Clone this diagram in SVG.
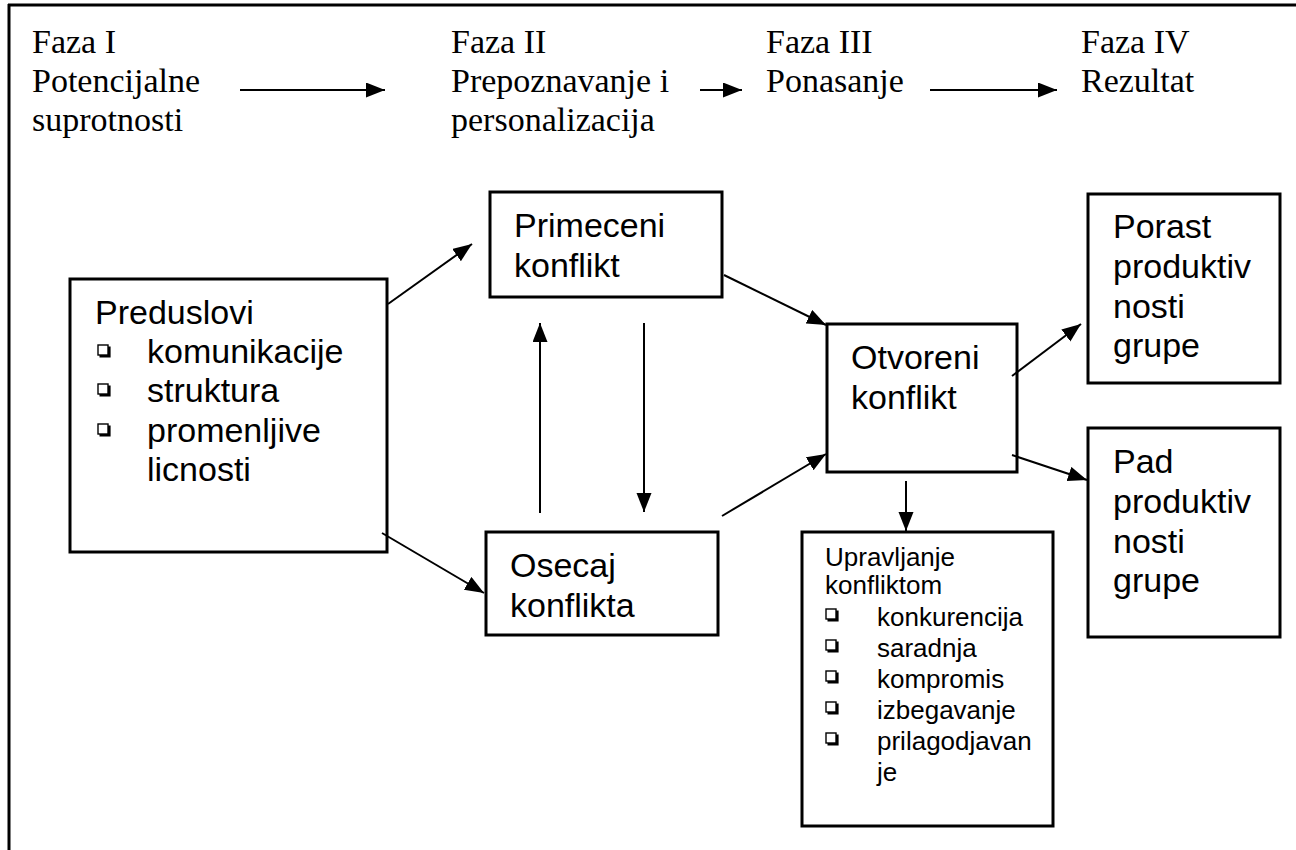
<svg xmlns="http://www.w3.org/2000/svg" xmlns:xlink="http://www.w3.org/1999/xlink" width="1296" height="850" viewBox="0 0 1296 850">
<style>
.hdr{font-family:"Liberation Serif","Times New Roman",serif;font-size:34px;fill:#000}
.box{fill:#fff;stroke:#000;stroke-width:3}
.t{font-family:"Liberation Sans",Arial,sans-serif;font-size:34px;fill:#000}
.ts{font-family:"Liberation Sans",Arial,sans-serif;font-size:26px;fill:#000}
.con{stroke:#000;stroke-width:2;fill:none;marker-end:url(#ah)}
</style>
<defs>
<marker id="ah" markerUnits="userSpaceOnUse" markerWidth="22" markerHeight="16" refX="19" refY="7.5" orient="auto">
<path d="M0,0 L19,7.5 L0,15 z" fill="#000"/>
</marker>
<g id="bul">
<rect x="0" y="0" width="10" height="10" fill="#fff" stroke="#000" stroke-width="1.4"/>
<path d="M1.5,11.3 H11.3 V1.5" stroke="#000" stroke-width="2.6" fill="none"/>
</g>
</defs>
<rect width="1296" height="850" fill="#fff"/>
<g id="frame">
<path d="M8,5 H1296 M9,4 V850" stroke="#000" stroke-width="3" fill="none"/>
</g>
<g id="header">
<text class="hdr" x="32" y="53">Faza I</text>
<text class="hdr" x="32" y="92">Potencijalne</text>
<text class="hdr" x="32" y="131">suprotnosti</text>
<text class="hdr" x="451" y="53">Faza II</text>
<text class="hdr" x="451" y="92">Prepoznavanje i</text>
<text class="hdr" x="451" y="131">personalizacija</text>
<text class="hdr" x="766" y="53">Faza III</text>
<text class="hdr" x="766" y="92">Ponasanje</text>
<text class="hdr" x="1081" y="53">Faza IV</text>
<text class="hdr" x="1081" y="92">Rezultat</text>
</g>
<g id="preduslovi">
<rect class="box" x="70" y="279" width="317" height="273"/>
<text class="t" x="95" y="324">Preduslovi</text>
<use xlink:href="#bul" x="98" y="345"/>
<text class="t" x="147" y="363">komunikacije</text>
<use xlink:href="#bul" x="98" y="384"/>
<text class="t" x="147" y="402">struktura</text>
<use xlink:href="#bul" x="98" y="424"/>
<text class="t" x="147" y="442">promenljive</text>
<text class="t" x="147" y="481">licnosti</text>
</g>
<g id="primeceni">
<rect class="box" x="490" y="192" width="232" height="105"/>
<text class="t" x="514" y="237">Primeceni</text>
<text class="t" x="514" y="277">konflikt</text>
</g>
<g id="osecaj">
<rect class="box" x="486" y="532" width="232" height="103"/>
<text class="t" x="510" y="577">Osecaj</text>
<text class="t" x="510" y="617">konflikta</text>
</g>
<g id="otvoreni">
<rect class="box" x="827" y="324" width="190" height="148"/>
<text class="t" x="851" y="369">Otvoreni</text>
<text class="t" x="851" y="409">konflikt</text>
</g>
<g id="porast">
<rect class="box" x="1088" y="194" width="192" height="189"/>
<text class="t" x="1113" y="238">Porast</text>
<text class="t" x="1113" y="278">produktiv</text>
<text class="t" x="1113" y="318">nosti</text>
<text class="t" x="1113" y="357">grupe</text>
</g>
<g id="pad">
<rect class="box" x="1088" y="428" width="192" height="209"/>
<text class="t" x="1113" y="473">Pad</text>
<text class="t" x="1113" y="513">produktiv</text>
<text class="t" x="1113" y="553">nosti</text>
<text class="t" x="1113" y="592">grupe</text>
</g>
<g id="upravljanje">
<rect class="box" x="802" y="532" width="251" height="294"/>
<text class="ts" x="825" y="566">Upravljanje</text>
<text class="ts" x="825" y="594">konfliktom</text>
<use xlink:href="#bul" x="826" y="609"/>
<text class="ts" x="877" y="626">konkurencija</text>
<use xlink:href="#bul" x="826" y="640"/>
<text class="ts" x="877" y="657">saradnja</text>
<use xlink:href="#bul" x="826" y="671"/>
<text class="ts" x="877" y="688">kompromis</text>
<use xlink:href="#bul" x="826" y="702"/>
<text class="ts" x="877" y="719">izbegavanje</text>
<use xlink:href="#bul" x="826" y="733"/>
<text class="ts" x="877" y="750">prilagodjavan</text>
<text class="ts" x="877" y="781">je</text>
</g>
<g id="connectors">
<line class="con" x1="240" y1="90" x2="385" y2="90"/>
<line class="con" x1="700" y1="90" x2="742" y2="90"/>
<line class="con" x1="930" y1="90" x2="1057" y2="90"/>
<line class="con" x1="388" y1="304" x2="472" y2="244"/>
<line class="con" x1="382" y1="533" x2="484" y2="593"/>
<line class="con" x1="540" y1="513" x2="540" y2="323"/>
<line class="con" x1="644" y1="323" x2="644" y2="512"/>
<line class="con" x1="724" y1="275" x2="826" y2="325"/>
<line class="con" x1="722" y1="516" x2="826" y2="454"/>
<line class="con" x1="1012" y1="376" x2="1081" y2="324"/>
<line class="con" x1="1012" y1="455" x2="1087" y2="480"/>
<line class="con" x1="906" y1="481" x2="906" y2="531"/>
</g>
</svg>
